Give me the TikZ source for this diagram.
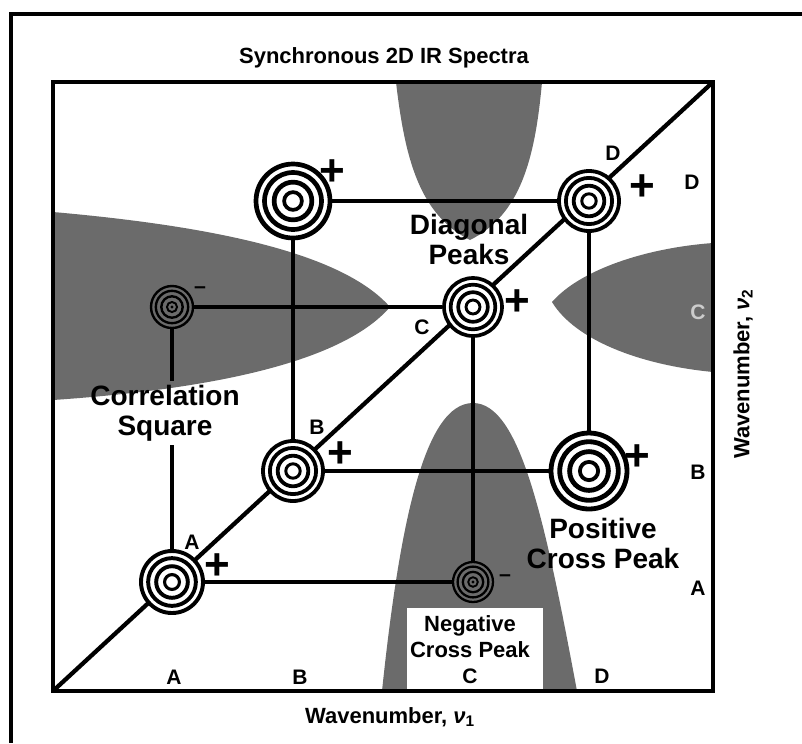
\documentclass[tikz,border=0pt]{standalone}
\usepackage{fontspec}
\setmainfont{Liberation Sans}
\usetikzlibrary{calc}
\pgfdeclarelayer{shade}
\pgfdeclarelayer{lines}
\pgfsetlayers{shade,lines,main}
\begin{document}
\begin{tikzpicture}[x=0.75pt,y=-0.75pt,
  frameline/.style={line width=3.2pt},
  conn/.style={line width=3pt},
  lobe/.style={fill=black!58},
  peakpos/.style={circle, draw=black, line width={0.095pt*#1}, fill=white, inner sep=0pt, minimum size={1.5pt*#1},
    path picture={
      \draw[line width={0.095pt*#1}] (path picture bounding box.center) circle[radius={0.5775pt*#1}];
      \draw[line width={0.095pt*#1}] (path picture bounding box.center) circle[radius={0.3825pt*#1}];
      \draw[line width={0.075pt*#1}] (path picture bounding box.center) circle[radius={0.18pt*#1}];
      \fill (path picture bounding box.center) circle[radius={0.06pt*#1}];
    }},
  peakneg/.style={circle, draw=black, line width={0.085pt*#1}, inner sep=0pt, minimum size={1.5pt*#1},
    path picture={
      \draw[line width={0.085pt*#1}] (path picture bounding box.center) circle[radius={0.5775pt*#1}];
      \draw[line width={0.085pt*#1}] (path picture bounding box.center) circle[radius={0.3825pt*#1}];
      \draw[line width={0.07pt*#1}] (path picture bounding box.center) circle[radius={0.18pt*#1}];
      \fill (path picture bounding box.center) circle[radius={0.06pt*#1}];
    }},
  lbl/.style={font=\fontsize{15.75}{18}\selectfont\bfseries, inner sep=0pt},
  big/.style={font=\fontsize{21}{22.5}\selectfont\bfseries, align=center, inner sep=0pt},
  mid/.style={font=\fontsize{16.5}{19.5}\selectfont\bfseries, align=center, inner sep=0pt},
  axis/.style={font=\fontsize{16.5}{18}\selectfont\bfseries, inner sep=0pt},
  pl/.style={font=\fontsize{33}{33}\selectfont\bfseries, inner sep=0pt},
  mn/.style={font=\fontsize{16}{16}\selectfont\bfseries, inner sep=0pt}
]
\useasboundingbox (0,0) rectangle (802,743);

% outer frame
\draw[line width=3.4pt] (802,14) -- (11,14) -- (11,743);

% shaded lobes
\begin{pgfonlayer}{shade}
\fill[lobe] (396,82) .. controls (405,160) and (420,215) .. (470,240)
            .. controls (520,215) and (535,160) .. (542,82) -- cycle;
\fill[lobe] (53,212) .. controls (200,225) and (340,250) .. (390,307)
            .. controls (340,365) and (200,390) .. (53,400) -- cycle;
\fill[lobe] (713,243) .. controls (645,248) and (580,270) .. (552,302)
            .. controls (575,340) and (640,365) .. (713,372) -- cycle;
\fill[lobe] (382,691) .. controls (400,520) and (425,403) .. (473,403)
            .. controls (520,403) and (545,520) .. (577,691) -- cycle;
\fill[white] (407,608) rectangle (543,689);
\end{pgfonlayer}

% peaks
\node[peakpos=31] (A) at (172,582) {};
\node[peakpos=30] (B) at (293,471) {};
\node[peakpos=29] (C) at (473,307) {};
\node[peakpos=30] (D) at (589,201) {};
\node[peakpos=37] (BD) at (293,201) {};
\node[peakpos=38] (DB) at (589,471) {};
\node[peakneg=21] (AC) at (172,307) {};
\node[peakneg=20] (CA) at (473,582) {};

% texts
\node[axis] (title) at (384,58) {Synchronous 2D IR Spectra};
\node[big] (diag) at (469,239) {Diagonal\\Peaks};
\node[big, inner ysep=3pt] (cs) at (165,413) {Correlation\\Square};
\node[big] (pos) at (603,543) {Positive\\Cross Peak};
\node[mid] (neg) at (470,637) {Negative\\Cross Peak};

\node[lbl] (dA) at (192,542) {A};
\node[lbl] (dB) at (317,427) {B};
\node[lbl] (dC) at (422,327) {C};
\node[lbl] (dD) at (613,153) {D};

\node[lbl] (xA) at (174,677) {A};
\node[lbl] (xB) at (300,677) {B};
\node[lbl] (xC) at (470,676) {C};
\node[lbl] (xD) at (602,676) {D};

\node[lbl] (yD) at (692,182) {D};
\node[lbl, text=black!20] (yC) at (698,312) {C};
\node[lbl] (yB) at (698,472) {B};
\node[lbl] (yA) at (698,588) {A};

\node[pl] (pA) at (217,567) {+};
\node[pl] (pB) at (340,455) {+};
\node[pl] (pC) at (517,303) {+};
\node[pl] (pD) at (642,188) {+};
\node[pl] (pBD) at (332,173) {+};
\node[pl] (pDB) at (637,458) {+};
\node[mn] (mAC) at (200,290) {–};
\node[mn] (mCA) at (505,578) {–};

\node[axis] (xlab) at (390,717) {Wavenumber, \textit{ν}\textsubscript{1}};
\node[axis, rotate=90] (ylab) at (743,374) {Wavenumber, \textit{ν}\textsubscript{2}};

% box, diagonal and connectors
\begin{pgfonlayer}{lines}
\draw[frameline] (53,82) rectangle (713,691);
\draw[line width=3.2pt] (53,691) -- (713,82);
\draw[conn] (A) -- (CA);
\draw[conn] (CA) -- (C);
\draw[conn] (C) -- (AC);
\draw[conn] (AC) -- (AC |- cs.north);
\draw[conn] (A) -- (A |- cs.south);
\draw[conn] (B) -- (BD);
\draw[conn] (BD) -- (D);
\draw[conn] (D) -- (DB);
\draw[conn] (DB) -- (B);
\end{pgfonlayer}
\end{tikzpicture}
\end{document}
